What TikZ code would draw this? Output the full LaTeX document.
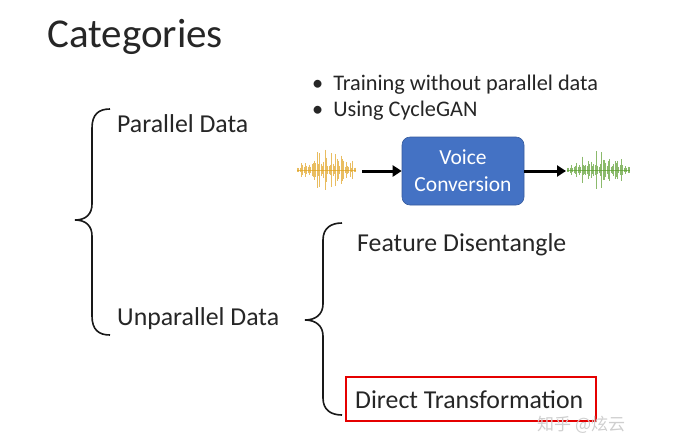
\documentclass[tikz,border=0pt]{standalone}
\usepackage{fontspec}
\setmainfont{Carlito}
\newfontfamily\cjkfont{Noto Sans CJK SC}
\usetikzlibrary{arrows.meta,calc}
\definecolor{vcblue}{HTML}{4472C4}
\definecolor{wavorange}{HTML}{E0A21E}
\definecolor{wavgreen}{HTML}{5A9E2E}
\definecolor{wmgray}{HTML}{CFCFCF}
\tikzset{
  lbl/.style={anchor=west, inner sep=0pt, font=\fontsize{25.8}{30}\selectfont, text=black!85},
  bul/.style={anchor=west, inner sep=0pt, font=\fontsize{22.3}{26}\selectfont, text=black!85},
  bracepath/.style={line width=1.6pt, black!90},
  arr/.style={line width=3pt, -{Triangle[length=9pt,width=11pt]}},
  vcbox/.style={rounded corners=8pt, fill=vcblue, draw=vcblue!80!black, line width=0.6pt, minimum width=122pt, minimum height=68pt, text=white, align=center, font=\fontsize{21.5}{27}\selectfont},
  wavebox/.style={minimum width=60pt, minimum height=44pt, inner sep=0pt}
}
\begin{document}
\begin{tikzpicture}[x=1pt,y=-1pt]
\useasboundingbox (0,0) rectangle (700,437);
\fill[white] (0,0) rectangle (700,437);
% title
\node[anchor=west, inner sep=0pt, font=\fontsize{41}{48}\selectfont, text=black!85] (title) at (47,37) {Categories};
% left brace
\draw[bracepath] (110,109) .. controls (99,109) and (92,114) .. (92,128) -- (92,204) .. controls (92,214) and (86,220) .. (75,220) .. controls (86,220) and (92,226) .. (92,236) -- (92,316) .. controls (92,330) and (99,335) .. (110,335);
\node[lbl] (par) at (117,124) {Parallel Data};
\node[lbl] (unpar) at (117,319) {Unparallel Data};
% bullets
\node[bul] (b1) at (312,85) {\textbullet\hspace{10pt}Training without parallel data};
\node[bul] (b2) at (312,111) {\textbullet\hspace{10pt}Using CycleGAN};
% waveforms
\node[wavebox] (w1) at (326.5,170) {};
\node[wavebox] (w2) at (598,170) {};
\pgfmathsetseed{7}
\begin{scope}[wavorange, line width=1pt, opacity=0.7]
\draw[line width=0.8pt] (297,170) -- (356,170);
\foreach \i in {0,...,44} {
  \pgfmathsetmacro\xx{297.5+\i*1.32}
  \pgfmathsetmacro\env{(\xx<305)*0.45+(\xx>=305)*(\xx<350)*1+(\xx>=350)*0.5}
  \pgfmathsetmacro\h{\env*(3+19*rnd*rnd)}
  \draw (\xx,170-\h) -- (\xx,170+\h);
}
\end{scope}
\begin{scope}[wavgreen, line width=1pt, opacity=0.7]
\draw[line width=0.8pt] (567,170) -- (630,170);
\foreach \i in {0,...,47} {
  \pgfmathsetmacro\xx{567.5+\i*1.32}
  \pgfmathsetmacro\env{(\xx<575)*0.45+(\xx>=575)*(\xx<622)*1+(\xx>=622)*0.5}
  \pgfmathsetmacro\h{\env*(3+21*rnd*rnd)}
  \draw (\xx,170-\h) -- (\xx,170+\h);
}
\end{scope}
% voice conversion box
\node[vcbox] (vc) at (463,171) {Voice\\Conversion};
\coordinate (a1s) at (362,171);
\coordinate (a2e) at (566,171);
\draw[arr] (a1s) -- (vc.west);
\draw[arr] (vc.east) -- (a2e);
% second brace
\draw[bracepath] (342,223) .. controls (331,223) and (323,228) .. (323,240) -- (323,304) .. controls (323,314) and (316,320) .. (305,320) .. controls (316,320) and (323,326) .. (323,336) -- (323,398) .. controls (323,410) and (331,415) .. (342,415);
\node[lbl] (fd) at (357,245) {Feature Disentangle};
\node[lbl] (dt) at (355,400) {Direct Transformation};
\node[draw=red!90!black, line width=2pt, minimum width=250pt, minimum height=44pt, inner sep=0pt] (redbox) at (471,399) {};
% watermark
\node[anchor=west, inner sep=0pt, text=wmgray, font=\cjkfont\fontsize{17}{19}\selectfont] (wm) at (537,425) {知乎 @炫云};
\end{tikzpicture}
\end{document}
